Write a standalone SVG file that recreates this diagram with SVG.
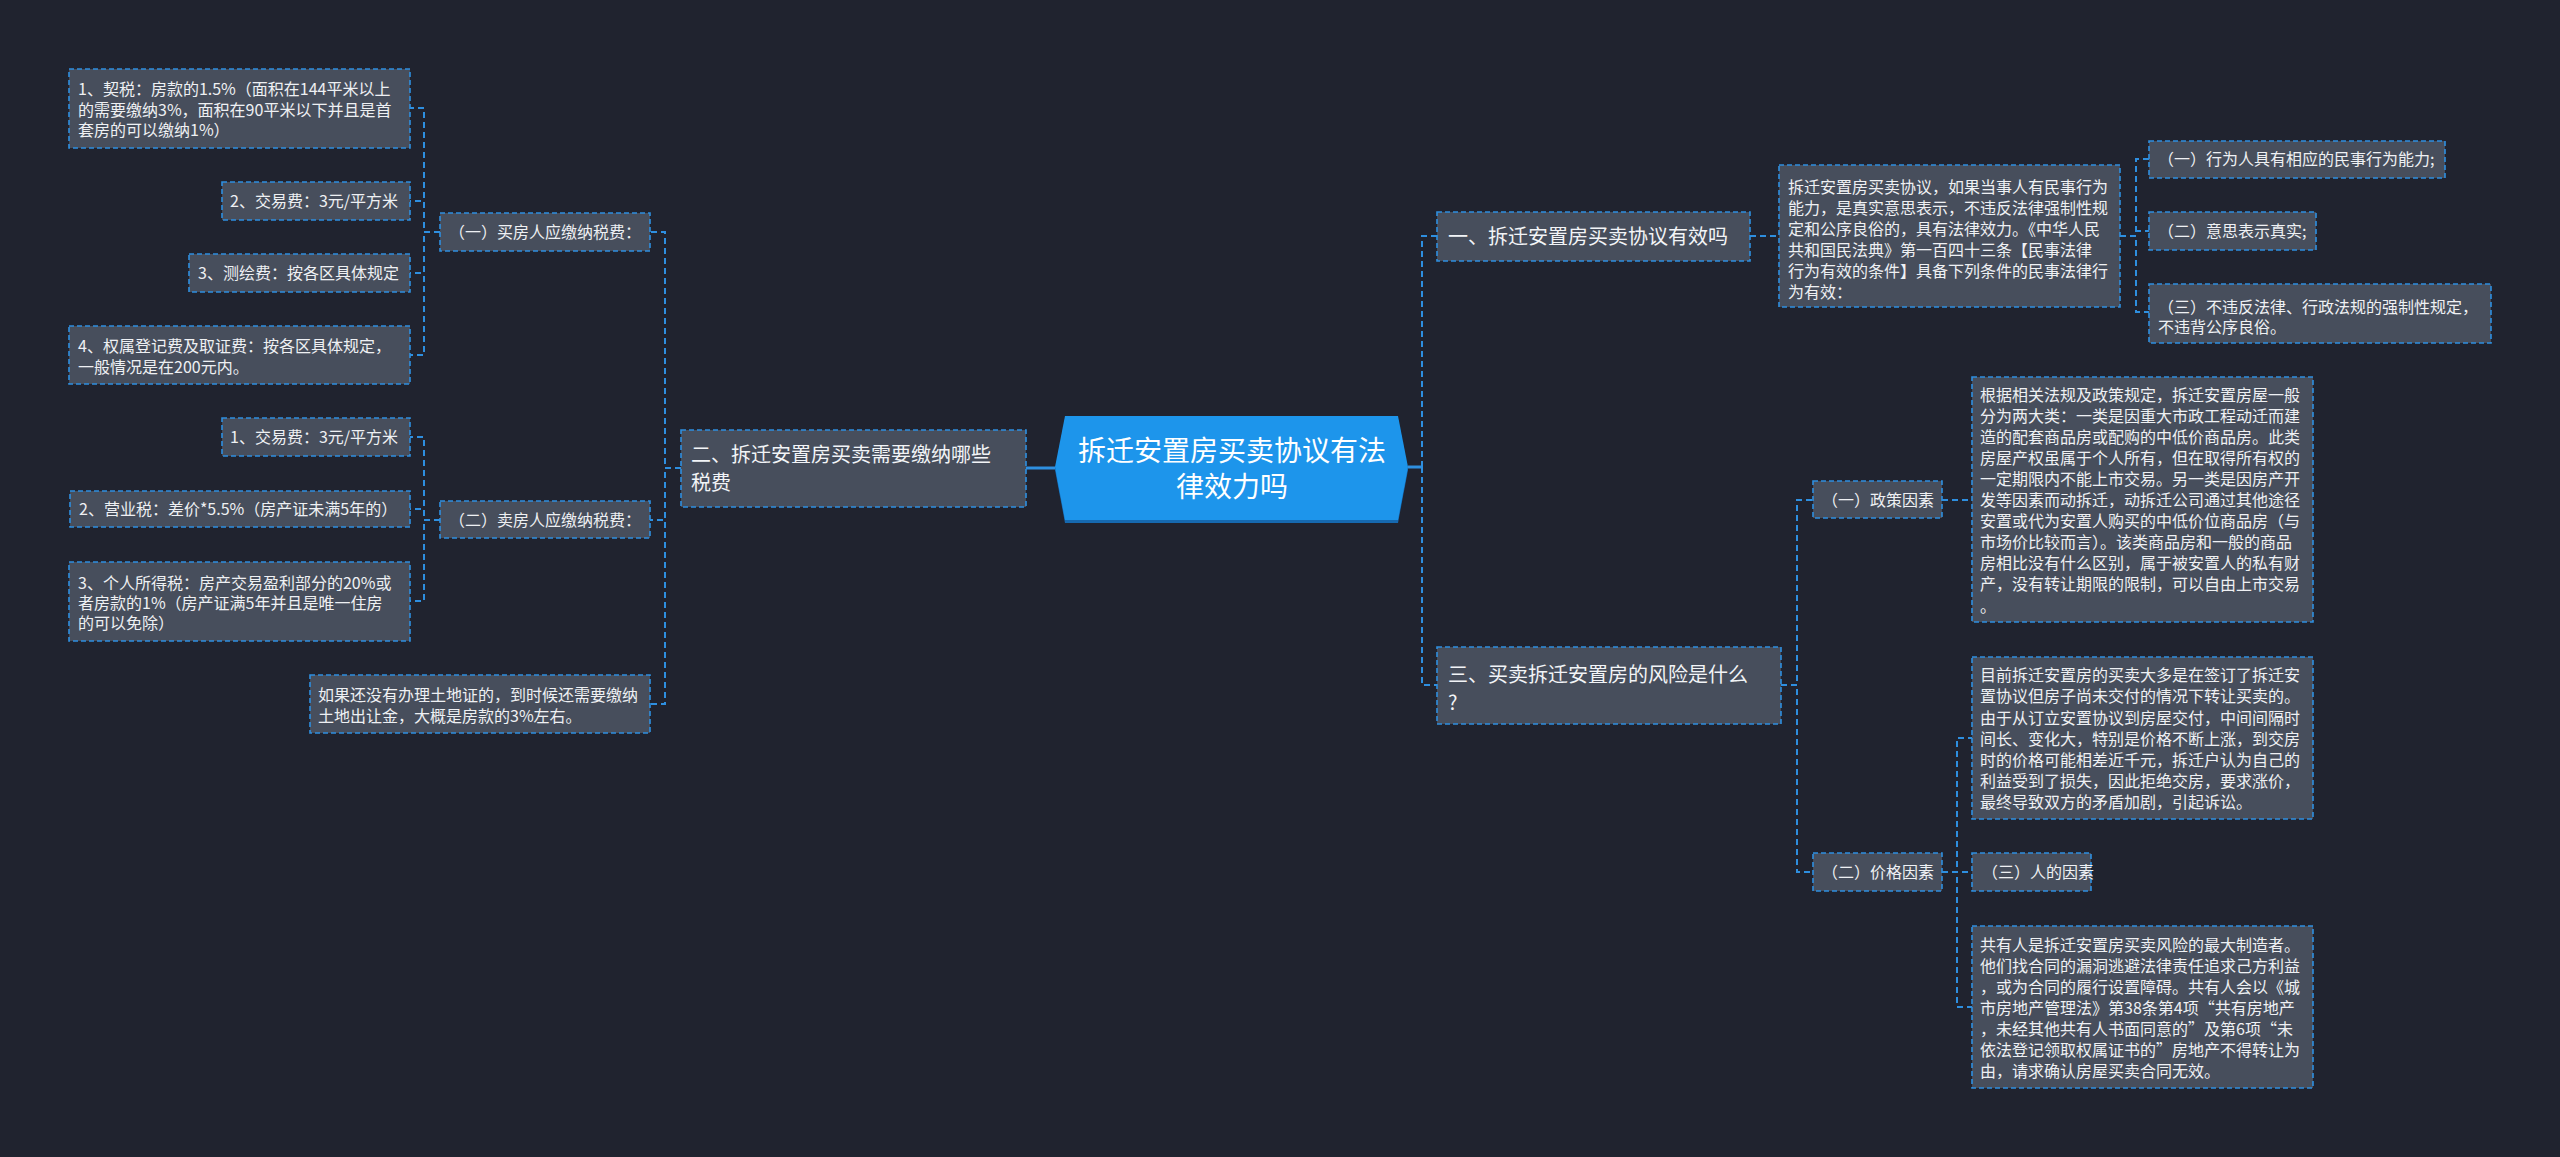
<svg xmlns="http://www.w3.org/2000/svg" width="2560" height="1157" viewBox="0 0 2560 1157">
<style>
.bg{fill:#20232f}
.box{fill:#474e5c;stroke:#2e8fe0;stroke-width:1.6;stroke-dasharray:5 3}
.t{font-family:"Noto Sans CJK SC","Noto Sans",sans-serif;fill:#eef0f3;font-size:16px}
.tb{font-family:"Noto Sans CJK SC","Noto Sans",sans-serif;fill:#f2f4f7;font-size:20px}
.tr{font-family:"Noto Sans CJK SC","Noto Sans",sans-serif;fill:#ffffff;font-size:28px}
.c{fill:none;stroke:#2e8fe0;stroke-width:2;stroke-dasharray:6 4}
.cs{fill:none;stroke:#2e8fe0;stroke-width:3}
</style>
<rect class="bg" x="0" y="0" width="2560" height="1157"/>
<g id="connectors">
<path class="cs" d="M1026,468 H1055"/>
<path class="cs" d="M1408,467 H1422"/>
<path class="c" d="M681,468 H665 V232 H650"/>
<path class="c" d="M681,468 H665 V520 H650"/>
<path class="c" d="M681,468 H665 V704 H650"/>
<path class="c" d="M440,232 H424 V108 H410"/>
<path class="c" d="M440,232 H424 V201 H410"/>
<path class="c" d="M440,232 H424 V273 H410"/>
<path class="c" d="M440,232 H424 V355 H410"/>
<path class="c" d="M440,520 H424 V437 H410"/>
<path class="c" d="M440,520 H424 V509 H410"/>
<path class="c" d="M440,520 H424 V601 H410"/>
<path class="c" d="M1422,467 V236 H1437"/>
<path class="c" d="M1422,467 V685 H1437"/>
<path class="c" d="M1750,236 H1779"/>
<path class="c" d="M2120,236 H2136 V159 H2149"/>
<path class="c" d="M2120,236 H2136 V231 H2149"/>
<path class="c" d="M2120,236 H2136 V312 H2149"/>
<path class="c" d="M1781,685 H1797 V500 H1813"/>
<path class="c" d="M1781,685 H1797 V872 H1813"/>
<path class="c" d="M1942,500 H1972"/>
<path class="c" d="M1942,872 H1957 V738 H1972"/>
<path class="c" d="M1942,872 H1957 V872 H1972"/>
<path class="c" d="M1942,872 H1957 V1007 H1972"/>
</g>
<g id="root">
<polygon points="1065,419 1398,419 1408,470 1398,523 1065,523 1055,470" fill="#1669b0"/>
<polygon points="1065,416 1398,416 1408,467 1398,520 1065,520 1055,467" fill="#1d95eb"/>
<text class="tr" x="1232" y="461" text-anchor="middle">拆迁安置房买卖协议有法</text>
<text class="tr" x="1232" y="497" text-anchor="middle">律效力吗</text>
</g>
<g id="n2">
<rect class="box" x="681" y="430" width="345" height="77"/>
<text class="tb" x="691" y="462">二、拆迁安置房买卖需要缴纳哪些</text>
<text class="tb" x="691" y="490">税费</text>
</g>
<g id="s1">
<rect class="box" x="440" y="213" width="210" height="38"/>
<text class="t" x="449" y="238">（一）买房人应缴纳税费：</text>
</g>
<g id="s2">
<rect class="box" x="440" y="501" width="210" height="37"/>
<text class="t" x="449" y="526">（二）卖房人应缴纳税费：</text>
</g>
<g id="l1">
<rect class="box" x="69" y="69" width="341" height="79"/>
<text class="t" x="78" y="95">1、契税：房款的1.5%（面积在144平米以上</text>
<text class="t" x="78" y="116">的需要缴纳3%，面积在90平米以下并且是首</text>
<text class="t" x="78" y="136">套房的可以缴纳1%）</text>
</g>
<g id="l2">
<rect class="box" x="222" y="182" width="188" height="38"/>
<text class="t" x="230" y="207">2、交易费：3元/平方米</text>
</g>
<g id="l3">
<rect class="box" x="189" y="254" width="221" height="38"/>
<text class="t" x="198" y="279">3、测绘费：按各区具体规定</text>
</g>
<g id="l4">
<rect class="box" x="69" y="326" width="341" height="58"/>
<text class="t" x="78" y="352">4、权属登记费及取证费：按各区具体规定，</text>
<text class="t" x="78" y="373">一般情况是在200元内。</text>
</g>
<g id="l5">
<rect class="box" x="222" y="418" width="188" height="38"/>
<text class="t" x="230" y="443">1、交易费：3元/平方米</text>
</g>
<g id="l6">
<rect class="box" x="70" y="491" width="340" height="36"/>
<text class="t" x="79" y="515">2、营业税：差价*5.5%（房产证未满5年的）</text>
</g>
<g id="l7">
<rect class="box" x="69" y="562" width="341" height="79"/>
<text class="t" x="78" y="589">3、个人所得税：房产交易盈利部分的20%或</text>
<text class="t" x="78" y="609">者房款的1%（房产证满5年并且是唯一住房</text>
<text class="t" x="78" y="629">的可以免除）</text>
</g>
<g id="l8">
<rect class="box" x="310" y="675" width="340" height="58"/>
<text class="t" x="318" y="701">如果还没有办理土地证的，到时候还需要缴纳</text>
<text class="t" x="318" y="722">土地出让金，大概是房款的3%左右。</text>
</g>
<g id="n1">
<rect class="box" x="1437" y="212" width="313" height="49"/>
<text class="tb" x="1448" y="244">一、拆迁安置房买卖协议有效吗</text>
</g>
<g id="t1">
<rect class="box" x="1779" y="165" width="341" height="142"/>
<text class="t" x="1788" y="193">拆迁安置房买卖协议，如果当事人有民事行为</text>
<text class="t" x="1788" y="214">能力，是真实意思表示，不违反法律强制性规</text>
<text class="t" x="1788" y="235">定和公序良俗的，具有法律效力。《中华人民</text>
<text class="t" x="1788" y="256">共和国民法典》第一百四十三条【民事法律</text>
<text class="t" x="1788" y="277">行为有效的条件】具备下列条件的民事法律行</text>
<text class="t" x="1788" y="298">为有效：</text>
</g>
<g id="c1">
<rect class="box" x="2149" y="141" width="296" height="37"/>
<text class="t" x="2158" y="165">（一）行为人具有相应的民事行为能力;</text>
</g>
<g id="c2">
<rect class="box" x="2149" y="212" width="167" height="38"/>
<text class="t" x="2158" y="237">（二）意思表示真实;</text>
</g>
<g id="c3">
<rect class="box" x="2149" y="284" width="342" height="59"/>
<text class="t" x="2158" y="313">（三）不违反法律、行政法规的强制性规定，</text>
<text class="t" x="2158" y="333">不违背公序良俗。</text>
</g>
<g id="n3">
<rect class="box" x="1437" y="647" width="344" height="77"/>
<text class="tb" x="1448" y="682">三、买卖拆迁安置房的风险是什么</text>
<text class="tb" x="1448" y="710">?</text>
</g>
<g id="p1">
<rect class="box" x="1813" y="481" width="129" height="37"/>
<text class="t" x="1822" y="506">（一）政策因素</text>
</g>
<g id="t2">
<rect class="box" x="1972" y="377" width="341" height="245"/>
<text class="t" x="1980" y="401">根据相关法规及政策规定，拆迁安置房屋一般</text>
<text class="t" x="1980" y="422">分为两大类：一类是因重大市政工程动迁而建</text>
<text class="t" x="1980" y="443">造的配套商品房或配购的中低价商品房。此类</text>
<text class="t" x="1980" y="464">房屋产权虽属于个人所有，但在取得所有权的</text>
<text class="t" x="1980" y="485">一定期限内不能上市交易。另一类是因房产开</text>
<text class="t" x="1980" y="506">发等因素而动拆迁，动拆迁公司通过其他途径</text>
<text class="t" x="1980" y="527">安置或代为安置人购买的中低价位商品房（与</text>
<text class="t" x="1980" y="548">市场价比较而言）。该类商品房和一般的商品</text>
<text class="t" x="1980" y="569">房相比没有什么区别，属于被安置人的私有财</text>
<text class="t" x="1980" y="590">产，没有转让期限的限制，可以自由上市交易</text>
<text class="t" x="1980" y="612">。</text>
</g>
<g id="p2">
<rect class="box" x="1813" y="853" width="129" height="38"/>
<text class="t" x="1822" y="878">（二）价格因素</text>
</g>
<g id="t3">
<rect class="box" x="1972" y="657" width="341" height="162"/>
<text class="t" x="1980" y="681">目前拆迁安置房的买卖大多是在签订了拆迁安</text>
<text class="t" x="1980" y="702">置协议但房子尚未交付的情况下转让买卖的。</text>
<text class="t" x="1980" y="724">由于从订立安置协议到房屋交付，中间间隔时</text>
<text class="t" x="1980" y="745">间长、变化大，特别是价格不断上涨，到交房</text>
<text class="t" x="1980" y="766">时的价格可能相差近千元，拆迁户认为自己的</text>
<text class="t" x="1980" y="787">利益受到了损失，因此拒绝交房，要求涨价，</text>
<text class="t" x="1980" y="808">最终导致双方的矛盾加剧，引起诉讼。</text>
</g>
<g id="r">
<rect class="box" x="1972" y="853" width="119" height="38"/>
<text class="t" x="1982" y="878">（三）人的因素</text>
</g>
<g id="t4">
<rect class="box" x="1972" y="926" width="341" height="162"/>
<text class="t" x="1980" y="951">共有人是拆迁安置房买卖风险的最大制造者。</text>
<text class="t" x="1980" y="972">他们找合同的漏洞逃避法律责任追求己方利益</text>
<text class="t" x="1980" y="993">，或为合同的履行设置障碍。共有人会以《城</text>
<text class="t" x="1980" y="1014">市房地产管理法》第38条第4项“共有房地产</text>
<text class="t" x="1980" y="1035">，未经其他共有人书面同意的”及第6项“未</text>
<text class="t" x="1980" y="1056">依法登记领取权属证书的”房地产不得转让为</text>
<text class="t" x="1980" y="1077">由，请求确认房屋买卖合同无效。</text>
</g>
</svg>
